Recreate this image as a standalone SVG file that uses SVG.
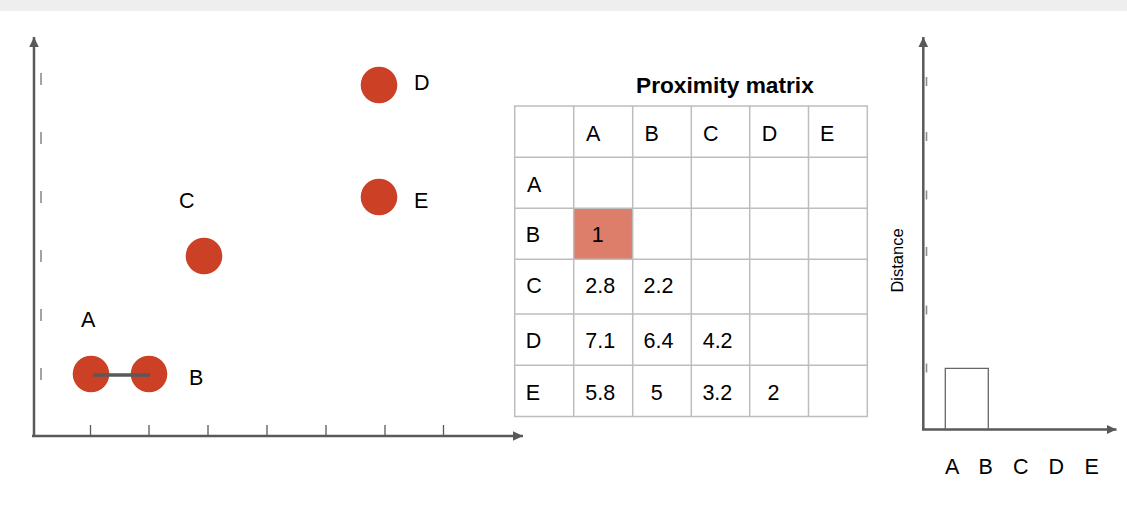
<svg xmlns="http://www.w3.org/2000/svg" width="1127" height="522" viewBox="0 0 1127 522">
  <defs>
    <style>
      .lbl { font-family: "Liberation Sans", Arial, sans-serif; font-size: 21.5px; fill: #000; }
      .title { font-family: "Liberation Sans", Arial, sans-serif; font-size: 22.7px; font-weight: bold; fill: #000; }
      .axis { stroke: #595959; stroke-width: 2.5; fill: none; }
      .tick { stroke: #595959; stroke-width: 1.3; }
      .ytick { stroke: #8c8c8c; stroke-width: 1.6; }
      .pt { fill: #cc4125; }
      .grid { stroke: #bdbdbd; stroke-width: 1.5; fill: none; }
      .bar { stroke: #666666; stroke-width: 1.3; fill: none; }
      .link { stroke: #595959; stroke-width: 3.4; }
    </style>
    <marker id="arr" markerUnits="userSpaceOnUse" markerWidth="12" markerHeight="12" viewBox="0 0 12 12" refX="10" refY="6" orient="auto">
      <path d="M0,1.2 L10,6 L0,10.8 Z" fill="#595959"/>
    </marker>
  </defs>

  <rect x="0" y="0" width="1127" height="11" fill="#eeeeee"/>

  <!-- Left scatter plot axes -->
  <g id="scatter-axes">
    <line class="axis" x1="34" y1="436" x2="34" y2="37" marker-end="url(#arr)"/>
    <line class="axis" x1="32" y1="436" x2="523" y2="436" marker-end="url(#arr)"/>
    <g class="ytick">
      <line x1="41" y1="73" x2="41" y2="85"/>
      <line x1="41" y1="132" x2="41" y2="144"/>
      <line x1="41" y1="191" x2="41" y2="203"/>
      <line x1="41" y1="250" x2="41" y2="262"/>
      <line x1="41" y1="309" x2="41" y2="321"/>
      <line x1="41" y1="368" x2="41" y2="380"/>
    </g>
    <g class="tick">
      <line x1="90.5" y1="425" x2="90.5" y2="435"/>
      <line x1="149" y1="425" x2="149" y2="435"/>
      <line x1="208" y1="425" x2="208" y2="435"/>
      <line x1="267" y1="425" x2="267" y2="435"/>
      <line x1="326" y1="425" x2="326" y2="435"/>
      <line x1="385" y1="425" x2="385" y2="435"/>
      <line x1="443.5" y1="425" x2="443.5" y2="435"/>
    </g>
  </g>

  <!-- Points -->
  <g id="point-A">
    <circle class="pt" cx="91" cy="374" r="18.3"/>
    <text class="lbl" x="81" y="327">A</text>
  </g>
  <g id="point-B">
    <circle class="pt" cx="149" cy="374" r="18.3"/>
    <text class="lbl" x="189" y="385">B</text>
  </g>
  <g id="point-C">
    <circle class="pt" cx="204" cy="256" r="18.3"/>
    <text class="lbl" x="179" y="208">C</text>
  </g>
  <g id="point-D">
    <circle class="pt" cx="379" cy="85" r="18.3"/>
    <text class="lbl" x="414" y="90">D</text>
  </g>
  <g id="point-E">
    <circle class="pt" cx="379" cy="197" r="18.3"/>
    <text class="lbl" x="414" y="208">E</text>
  </g>

  <!-- Connectors -->
  <g id="connectors">
    <line class="link" x1="93" y1="375" x2="150" y2="375"/>
  </g>

  <!-- Proximity matrix -->
  <g id="matrix">
    <text class="title" x="636" y="93">Proximity matrix</text>
    <rect x="573.7" y="208.3" width="59" height="51" fill="#dd7e6b"/>
    <g class="grid">
      <rect x="514.7" y="106" width="352.6" height="310.5"/>
      <line x1="573.7" y1="106" x2="573.7" y2="416.5"/>
      <line x1="632.7" y1="106" x2="632.7" y2="416.5"/>
      <line x1="691.3" y1="106" x2="691.3" y2="416.5"/>
      <line x1="749.7" y1="106" x2="749.7" y2="416.5"/>
      <line x1="808.5" y1="106" x2="808.5" y2="416.5"/>
      <line x1="514.7" y1="157.3" x2="867.3" y2="157.3"/>
      <line x1="514.7" y1="208.3" x2="867.3" y2="208.3"/>
      <line x1="514.7" y1="259.3" x2="867.3" y2="259.3"/>
      <line x1="514.7" y1="314" x2="867.3" y2="314"/>
      <line x1="514.7" y1="365.3" x2="867.3" y2="365.3"/>
    </g>
    <g class="lbl">
      <text x="586" y="140.5">A</text>
      <text x="644.5" y="140.5">B</text>
      <text x="703" y="140.5">C</text>
      <text x="761.7" y="140.5">D</text>
      <text x="820" y="140.5">E</text>
      <text x="527" y="191.5">A</text>
      <text x="525.8" y="241.7">B</text>
      <text x="526.3" y="293.3">C</text>
      <text x="525.8" y="347.5">D</text>
      <text x="525.8" y="399.5">E</text>
      <text x="591.7" y="241.7">1</text>
      <text x="585.3" y="293.3">2.8</text>
      <text x="643.6" y="293.3">2.2</text>
      <text x="585.3" y="347.5">7.1</text>
      <text x="643.6" y="347.5">6.4</text>
      <text x="702.7" y="347.5">4.2</text>
      <text x="585.3" y="399.5">5.8</text>
      <text x="650.8" y="399.5">5</text>
      <text x="702.4" y="399.5">3.2</text>
      <text x="767.6" y="399.5">2</text>
    </g>
  </g>

  <!-- Dendrogram chart -->
  <g id="dendrogram">
    <line class="axis" x1="923.3" y1="430" x2="923.3" y2="37" marker-end="url(#arr)"/>
    <line class="axis" x1="922" y1="429.5" x2="1116.5" y2="429.5" marker-end="url(#arr)"/>
    <g class="ytick">
      <line x1="926.5" y1="77" x2="926.5" y2="86"/>
      <line x1="926.5" y1="132" x2="926.5" y2="141"/>
      <line x1="926.5" y1="190.5" x2="926.5" y2="199.5"/>
      <line x1="926.5" y1="247" x2="926.5" y2="256"/>
      <line x1="926.5" y1="305.5" x2="926.5" y2="314.5"/>
      <line x1="926.5" y1="363.5" x2="926.5" y2="372.5"/>
    </g>
    <path class="bar" d="M945.3,429 V368.3 H988.3 V429"/>
    <text class="lbl" transform="translate(902.5,260.5) rotate(-90)" text-anchor="middle" style="font-size:16.5px">Distance</text>
    <g class="lbl">
      <text x="945" y="474">A</text>
      <text x="978.5" y="474">B</text>
      <text x="1013" y="474">C</text>
      <text x="1048.5" y="474">D</text>
      <text x="1084.5" y="474">E</text>
    </g>
  </g>
</svg>
